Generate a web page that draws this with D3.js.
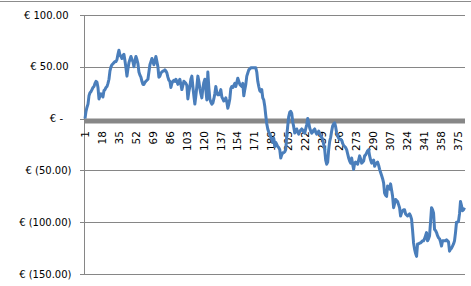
<!DOCTYPE html>
<html>
<head>
<meta charset="utf-8">
<script src="https://cdn.jsdelivr.net/npm/d3@7"></script>
<style>
  body { margin: 0; background: #fff; }
  text { font-family: "DejaVu Sans", Verdana, sans-serif; fill: #000; }
</style>
</head>
<body>
<div id="chart"></div>
<script>
// running balance per row
var balance = [
  0, 7, 11, 14, 22, 25, 26, 28, 30, 31,
  34, 36, 35, 30, 19, 22, 24, 22, 21, 27,
  28, 30, 31, 34, 38, 46, 50, 52, 53, 54,
  55, 55, 57, 62, 66, 61, 60, 58, 61, 62,
  56, 49, 41, 48, 54, 57, 60, 57, 55, 50,
  56, 60, 57, 53, 45, 42, 40, 36, 33, 33,
  35, 36, 37, 38, 45, 52, 55, 58, 55, 52,
  56, 60, 55, 50, 40, 41, 44, 45, 46, 46,
  47, 46, 44, 40, 37, 36, 30, 34, 36, 37,
  36, 38, 36, 33, 36, 38, 33, 28, 32, 36,
  35, 34, 32, 19, 26, 31, 38, 41, 31, 22,
  14, 22, 31, 41, 36, 29, 24, 20, 29, 35,
  38, 28, 18, 45, 30, 19, 16, 14, 15, 19,
  24, 31, 25, 23, 23, 25, 28, 21, 19, 17,
  18, 20, 16, 10, 14, 19, 29, 31, 30, 32,
  34, 31, 35, 39, 36, 33, 32, 31, 34, 22,
  28, 33, 41, 44, 47, 48, 49, 49, 49, 49,
  49, 49, 45, 36, 31, 27, 26, 28, 20, 18,
  12, 3, -5, -10, -13, -15, -18, -20, -23, -19,
  -27, -23, -25, -27, -28, -30, -38, -35, -33, -33,
  -32, -30, -17, -7, 2, 6, 7, 5, -3, -8,
  -14, -12, -10, -13, -15, -13, -11, -10, -11, -13,
  -14, -10, -6, 0, -4, -9, -12, -14, -13, -11,
  -10, -13, -15, -14, -12, -14, -17, -18, -20, -25,
  -30, -40, -44, -42, -30, -22, -18, -12, -7, -5,
  -4, -8, -14, -17, -19, -20, -20, -21, -24, -26,
  -27, -28, -30, -34, -38, -41, -43, -38, -44, -49,
  -43, -42, -43, -44, -40, -36, -39, -43, -42, -41,
  -36, -35, -33, -31, -30, -36, -40, -43, -41, -40,
  -46, -44, -43, -42, -45, -49, -52, -55, -58, -62,
  -72, -74, -75, -65, -67, -68, -63, -69, -75, -86,
  -82, -78, -79, -80, -83, -86, -94, -91, -89, -88,
  -88, -92, -93, -94, -93, -92, -94, -97, -108, -120,
  -126, -130, -133, -121, -121, -120, -120, -119, -118, -118,
  -116, -113, -110, -118, -116, -113, -100, -86, -88, -91,
  -107, -108, -110, -113, -115, -116, -119, -123, -118, -118,
  -118, -118, -117, -118, -119, -128, -126, -125, -123, -121,
  -118, -110, -100, -100, -99, -92, -80, -84, -89, -88,
  -86
];
var rows = balance.map(function(v, i) { return i + 1; });
var yTicks = [100, 50, 0, -50, -100, -150];
var yTickLabels = ["€ 100.00", "€ 50.00", "€ -", "€ (50.00)", "€ (100.00)", "€ (150.00)"];
var labelStep = 17;

var width = 471, height = 286;
var svg = d3.select("#chart")
  .append("svg")
    .attr("width", width)
    .attr("height", height);

// leftover border from the sheet above
svg.append("line")
  .attr("x1", 0).attr("x2", width)
  .attr("y1", 1.5).attr("y2", 1.5)
  .attr("stroke", "#8c8c8c");

var x = d3.scaleBand()
  .domain(rows)
  .range([84.5, 465]);

var y = d3.scaleLinear()
  .domain([-150, 100])
  .range([274, 15]);

// gridlines
svg.append("g")
  .selectAll("line")
  .data(yTicks)
  .enter()
  .append("line")
    .attr("x1", 80)
    .attr("x2", 465)
    .attr("y1", function(d) { return Math.round(y(d)) + 0.5; })
    .attr("y2", function(d) { return Math.round(y(d)) + 0.5; })
    .attr("stroke", "#868686");

// y axis line
svg.append("line")
  .attr("x1", 84.5).attr("x2", 84.5)
  .attr("y1", Math.round(y(100)) + 0.5)
  .attr("y2", Math.round(y(-150)) + 0.5)
  .attr("stroke", "#868686");

// y labels (accounting format, brackets stick out a bit)
svg.append("g")
  .selectAll("text")
  .data(yTicks)
  .enter()
  .append("text")
    .attr("x", function(d) { return d < 0 ? 71.5 : (d == 0 ? 63 : 68.5); })
    .attr("y", function(d) { return y(d); })
    .attr("dy", "0.35em")
    .attr("text-anchor", "end")
    .style("font-size", "10px")
    .text(function(d, i) { return yTickLabels[i]; });

// category labels, rotated
svg.append("g")
  .selectAll("text")
  .data(rows.filter(function(r) { return (r - 1) % labelStep == 0; }))
  .enter()
  .append("text")
    .attr("transform", function(d) {
      return "translate(" + (x(d) + x.bandwidth() / 2) + ",131) rotate(-90)";
    })
    .attr("dy", "0.35em")
    .attr("text-anchor", "end")
    .style("font-size", "10.5px")
    .text(function(d) { return d; });

// category axis (thick grey)
svg.append("line")
  .attr("x1", 84).attr("x2", 465)
  .attr("y1", y(0) + 2.4).attr("y2", y(0) + 2.4)
  .attr("stroke", "#878787")
  .attr("stroke-width", 4.8);

// the series
var line = d3.line()
  .x(function(d, i) { return x(rows[i]) + x.bandwidth() / 2; })
  .y(function(d) { return y(d); });

svg.append("path")
  .datum(balance)
  .attr("d", line)
  .attr("fill", "none")
  .attr("stroke", "#4A7EBB")
  .attr("stroke-width", 3)
  .attr("stroke-linejoin", "round");
</script>
</body>
</html>
